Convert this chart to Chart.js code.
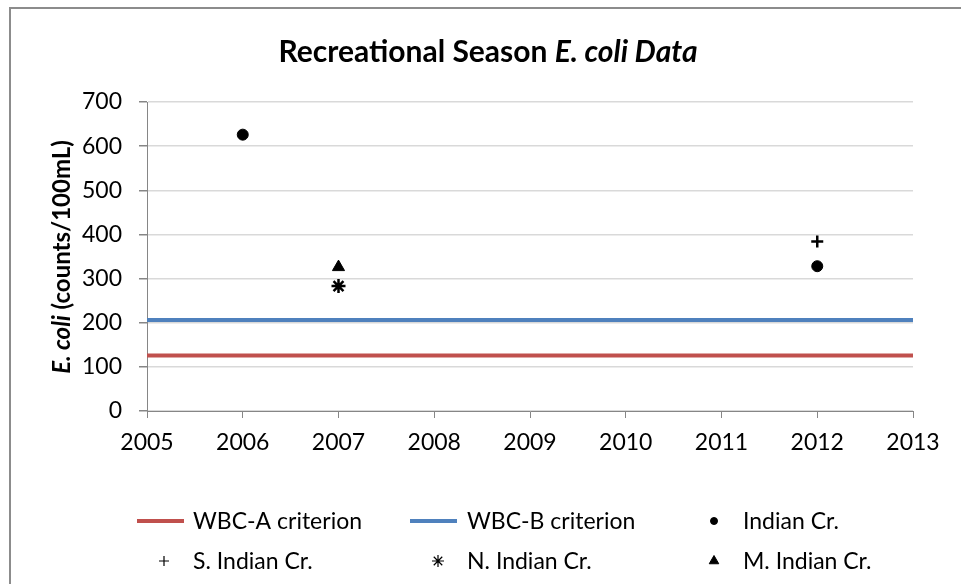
<!DOCTYPE html>
<html>
<head>
<meta charset="utf-8">
<script src="https://cdn.jsdelivr.net/npm/chart.js@4/dist/chart.umd.min.js"></script>
<style>
  html, body { margin: 0; padding: 0; background: #fff; }
  #wrap { width: 961px; height: 584px; position: relative; }
</style>
</head>
<body>
<div id="wrap"><canvas id="chart" width="961" height="584"></canvas></div>
<script>
// chart values
const lineYears = [2005, 2013];
const wbcA = [126, 126];
const wbcB = [206, 206];
const indianYears = [2006, 2012];
const indianCr = [626, 328];
const sIndianYears = [2012];
const sIndianCr = [384];
const nIndianYears = [2007];
const nIndianCr = [283];
const mIndianYears = [2007];
const mIndianCr = [326];
const yTicks = [0, 100, 200, 300, 400, 500, 600, 700];
const xTicks = [2005, 2006, 2007, 2008, 2009, 2010, 2011, 2012, 2013];

const FONT = 'Lato, "Open Sans", sans-serif';

function pts(xs, ys) {
    return xs.map((x, i) => ({ x: x, y: ys[i] }));
}

// legend marker sizes (smaller than the plotted ones)
const legendMarks = {
    circle: { radius: 3.5, borderWidth: 1 },
    cross: { radius: 5, borderWidth: 1.2 },
    star: { radius: 6, borderWidth: 1.2 },
    triangle: { radius: 5.5, borderWidth: 1 }
};

// title, y-axis title (mixed italic) and legend drawn by hand
const decorations = {
    id: 'decorations',
    afterDraw(chart) {
        const c = chart.ctx;
        c.save();
        // outer border
        c.strokeStyle = '#8c8c8c';
        c.lineWidth = 2;
        c.strokeRect(10, 8, 970, 600);

        // title
        c.fillStyle = '#000';
        c.textBaseline = 'middle';
        const t1 = 'Recreational Season ';
        const t2 = 'E. coli Data';
        c.font = 'bold 30px ' + FONT;
        const w1 = c.measureText(t1).width;
        c.font = 'italic bold 30px ' + FONT;
        const w2 = c.measureText(t2).width;
        let tx = 488 - (w1 + w2) / 2;
        c.font = 'bold 30px ' + FONT;
        c.textAlign = 'left';
        c.fillText(t1, tx, 52);
        c.font = 'italic bold 30px ' + FONT;
        c.fillText(t2, tx + w1, 52);

        // y axis title
        c.translate(62, 257);
        c.rotate(-Math.PI / 2);
        const a1 = 'E. coli';
        const a2 = ' (counts/100mL)';
        c.font = 'italic bold 24px ' + FONT;
        const aw1 = c.measureText(a1).width;
        c.font = 'bold 24px ' + FONT;
        const aw2 = c.measureText(a2).width;
        let ax = -(aw1 + aw2) / 2;
        c.font = 'italic bold 24px ' + FONT;
        c.fillText(a1, ax, 0);
        c.font = 'bold 24px ' + FONT;
        c.fillText(a2, ax + aw1, 0);
        c.restore();

        // legend
        c.save();
        c.font = '23px ' + FONT;
        c.textBaseline = 'middle';
        c.textAlign = 'left';
        const ds = chart.data.datasets;
        const cols = [137, 410, 700];
        const textX = [193, 467, 743];
        const rows = [521, 561];
        ds.forEach((d, i) => {
            const col = i % 3;
            const row = Math.floor(i / 3);
            const y = rows[row];
            if (d.showLine) {
                c.strokeStyle = d.borderColor;
                c.lineWidth = 4;
                c.beginPath();
                c.moveTo(cols[col], y);
                c.lineTo(cols[col] + 47, y);
                c.stroke();
            } else {
                const m = legendMarks[d.pointStyle];
                c.fillStyle = '#000';
                c.strokeStyle = '#000';
                c.lineWidth = m.borderWidth;
                Chart.helpers.drawPoint(c, {
                    pointStyle: d.pointStyle,
                    radius: m.radius,
                    borderWidth: m.borderWidth,
                    rotation: 0
                }, textX[col] - 29, y);
            }
            c.fillStyle = '#000';
            c.fillText(d.label, textX[col], y + 1);
        });
        c.restore();
    }
};

const ctx = document.getElementById('chart').getContext('2d');
const chart = new Chart(ctx, {
    type: 'scatter',
    data: {
        datasets: [
            {
                label: 'WBC-A criterion',
                data: pts(lineYears, wbcA),
                showLine: true,
                borderColor: '#c0504d',
                backgroundColor: '#c0504d',
                borderWidth: 4,
                pointRadius: 0
            },
            {
                label: 'WBC-B criterion',
                data: pts(lineYears, wbcB),
                showLine: true,
                borderColor: '#4f81bd',
                backgroundColor: '#4f81bd',
                borderWidth: 4,
                pointRadius: 0
            },
            {
                label: 'Indian Cr.',
                data: pts(indianYears, indianCr),
                pointStyle: 'circle',
                pointRadius: 5.5,
                backgroundColor: '#000',
                borderColor: '#000',
                borderWidth: 1
            },
            {
                label: 'S. Indian Cr.',
                data: pts(sIndianYears, sIndianCr),
                pointStyle: 'cross',
                pointRadius: 6,
                backgroundColor: '#000',
                borderColor: '#000',
                borderWidth: 2.5
            },
            {
                label: 'N. Indian Cr.',
                data: pts(nIndianYears, nIndianCr),
                pointStyle: 'star',
                pointRadius: 7,
                backgroundColor: '#000',
                borderColor: '#000',
                borderWidth: 2.5
            },
            {
                label: 'M. Indian Cr.',
                data: pts(mIndianYears, mIndianCr),
                pointStyle: 'triangle',
                pointRadius: 7,
                backgroundColor: '#000',
                borderColor: '#000',
                borderWidth: 1
            }
        ]
    },
    options: {
        responsive: false,
        animation: false,
        layout: { padding: { left: 0, top: 102, right: 48, bottom: 123 } },
        plugins: {
            legend: { display: false },
            title: { display: false },
            tooltip: { enabled: false }
        },
        scales: {
            x: {
                type: 'linear',
                min: 2005,
                max: 2013,
                afterBuildTicks: axis => { axis.ticks = xTicks.map(v => ({ value: v })); },
                afterFit: axis => { axis.height = 50; },
                grid: {
                    display: true,
                    drawOnChartArea: false,
                    drawTicks: true,
                    tickLength: 7,
                    color: '#868686'
                },
                border: { color: '#868686', width: 1 },
                ticks: {
                    color: '#000',
                    font: { family: FONT, size: 23 },
                    padding: 11,
                    callback: v => String(v)
                }
            },
            y: {
                min: 0,
                max: 700,
                afterBuildTicks: axis => { axis.ticks = yTicks.map(v => ({ value: v })); },
                afterFit: axis => { axis.width = 147; },
                grid: {
                    color: '#d9d9d9',
                    tickColor: '#868686',
                    tickLength: 8,
                    lineWidth: 1.5
                },
                border: { color: '#868686', width: 1 },
                ticks: {
                    color: '#000',
                    font: { family: FONT, size: 23 },
                    padding: 17
                }
            }
        }
    },
    plugins: [decorations]
});
</script>
</body>
</html>
